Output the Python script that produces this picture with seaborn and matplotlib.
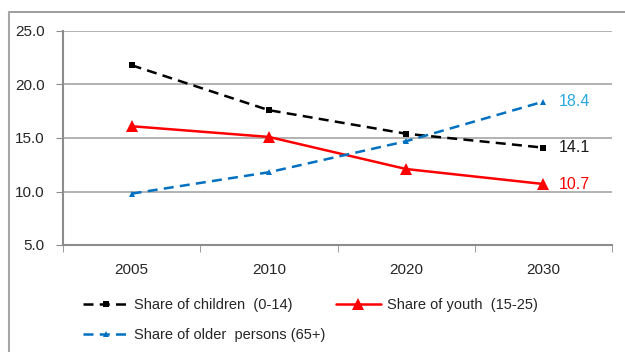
import matplotlib
matplotlib.use("Agg")
import matplotlib.pyplot as plt
import seaborn as sns
from matplotlib.lines import Line2D

years = ["2005", "2010", "2020", "2030"]
children = [21.8, 17.6, 15.4, 14.1]
youth = [16.1, 15.1, 12.1, 10.7]
older = [9.8, 11.8, 14.7, 18.4]

sns.set_style("white")
plt.rcParams["font.family"] = ["Liberation Sans", "DejaVu Sans"]
FS = 11

fig = plt.figure(figsize=(6.25, 3.52), dpi=100)
ax = fig.add_axes([63 / 625, 1 - 245 / 352, 549 / 625, 214 / 352])

blue = "#0070C0"
sns.lineplot(x=years, y=children, ax=ax, color="black", lw=1.8,
             marker="s", markersize=5, markeredgewidth=0)
ax.lines[-1].set_dashes([4, 2.5])
sns.lineplot(x=years, y=youth, ax=ax, color="red", lw=1.8,
             marker="^", markersize=8, markeredgewidth=0)
sns.lineplot(x=years, y=older, ax=ax, color=blue, lw=1.8,
             marker="^", markersize=5, markeredgewidth=0)
ax.lines[-1].set_dashes([4, 2.5])

ax.set_xlim(-0.5, 3.5)
ax.set_ylim(5, 25)
ax.set_yticks([5, 10, 15, 20, 25])
ax.set_yticklabels([f"{v:.1f}" for v in [5, 10, 15, 20, 25]], fontsize=FS)
ax.set_xticks(range(4))
ax.set_xticklabels(years, fontsize=FS)
ax.set_xticks([-0.5, 0.5, 1.5, 2.5, 3.5], minor=True)
ax.tick_params(axis="x", which="major", length=0, pad=13)
ax.tick_params(axis="x", which="minor", length=5, color="#8c8c8c", direction="out", bottom=True)
ax.tick_params(axis="y", length=5, color="#8c8c8c", direction="out", left=True, pad=8)

ax.yaxis.grid(True, color="#a6a6a6", lw=1.2)
ax.xaxis.grid(False)
for s in ["top", "right"]:
    ax.spines[s].set_visible(False)
for s in ["left", "bottom"]:
    ax.spines[s].set_color("#8c8c8c")
    ax.spines[s].set_linewidth(1.5)

# end labels
ax.text(3.11, older[-1], f"{older[-1]:.1f}", color="#29A8E0", fontsize=FS + 0.5, va="center")
ax.text(3.11, children[-1], f"{children[-1]:.1f}", color="#1a1a1a", fontsize=FS + 0.5, va="center")
ax.text(3.11, youth[-1], f"{youth[-1]:.1f}", color="red", fontsize=FS + 0.5, va="center")

handles = [
    Line2D([], [], color="black", lw=1.8, dashes=[4, 2.5], marker="s", markersize=5, markeredgewidth=0),
    Line2D([], [], color=blue, lw=1.8, dashes=[4, 2.5], marker="^", markersize=5, markeredgewidth=0),
    Line2D([], [], color="red", lw=1.8, marker="^", markersize=8, markeredgewidth=0),
]
labels = ["Share of children  (0-14)", "Share of older  persons (65+)", "Share of youth  (15-25)"]
fig.legend(handles, labels, ncol=2, loc="upper left", bbox_to_anchor=(70 / 625, 1 - 285 / 352),
           frameon=False, fontsize=10.5, handlelength=3.1, handletextpad=0.4,
           columnspacing=0.7, labelspacing=1.1)

# outer frame (top and left edges)
fig.add_artist(Line2D([9 / 625, 1], [1 - 12 / 352, 1 - 12 / 352], color="#8c8c8c", lw=1.2, transform=fig.transFigure))
fig.add_artist(Line2D([9 / 625, 9 / 625], [0, 1 - 12 / 352], color="#a6a6a6", lw=1.5, transform=fig.transFigure))

fig.savefig("out.png", dpi=100)
